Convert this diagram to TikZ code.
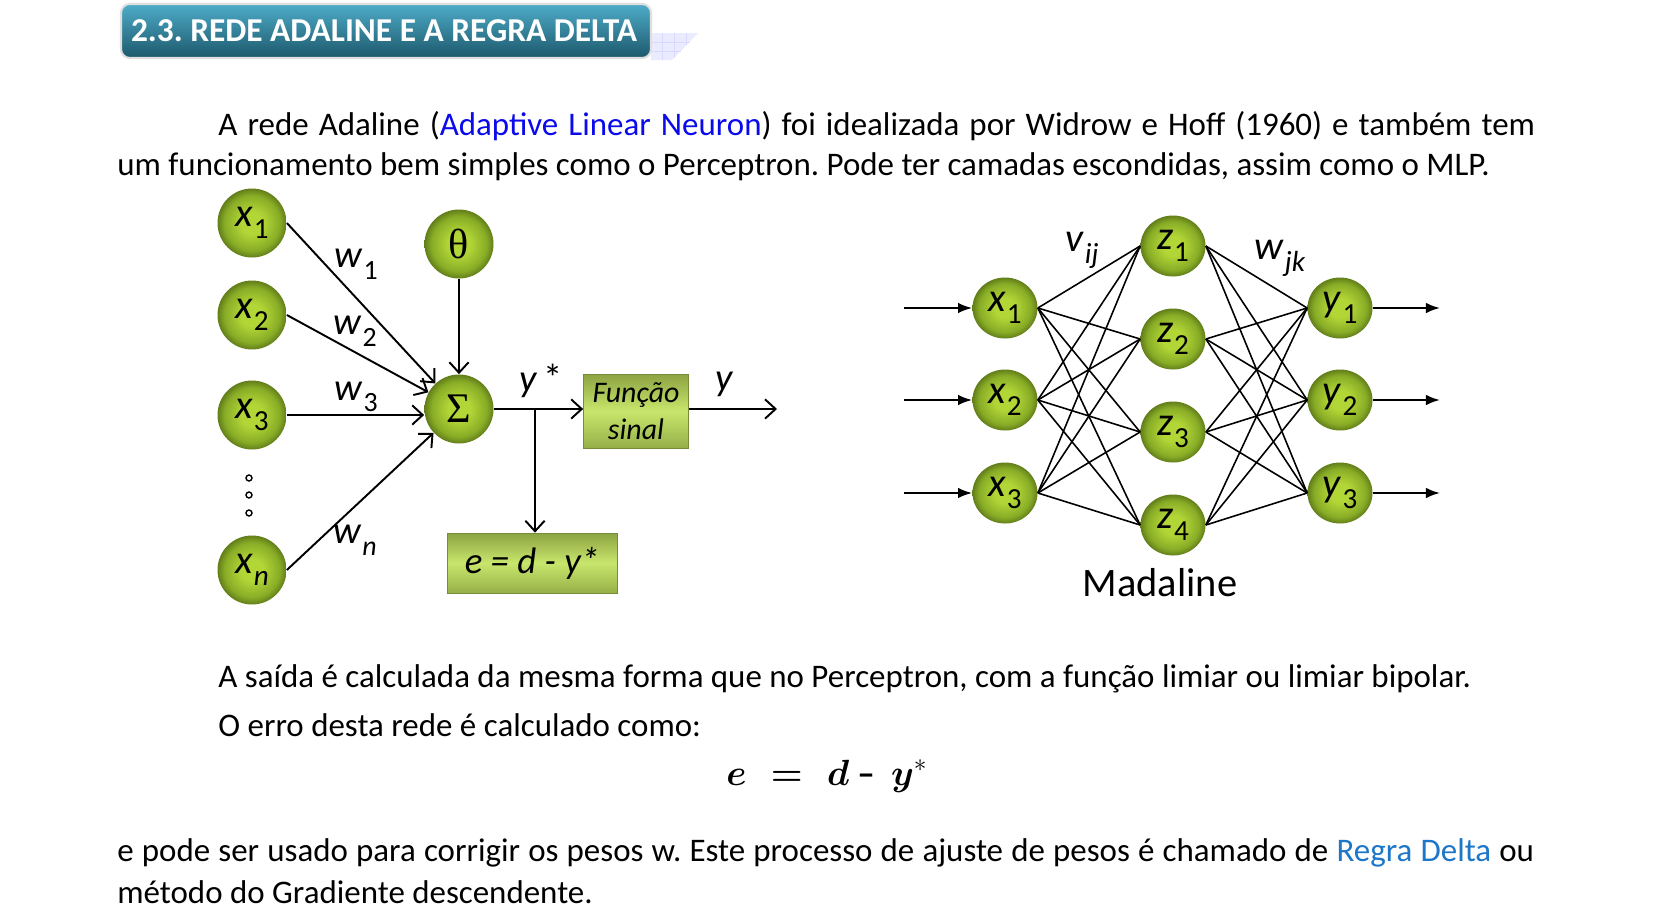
\documentclass[tikz,border=0pt]{standalone}
\usepackage{fontspec}
\setmainfont{Carlito}
\newfontfamily\grfont{Liberation Serif}
\usepackage{bm}
\usetikzlibrary{arrows.meta,shapes.geometric,calc}
\definecolor{gl}{RGB}{178,214,54}
\definecolor{gm}{RGB}{136,172,38}
\definecolor{gd}{RGB}{98,126,26}
\definecolor{bxtop}{RGB}{140,163,66}
\definecolor{bxmid}{RGB}{200,230,108}
\definecolor{bxbot}{RGB}{150,176,72}
\definecolor{hdtop}{RGB}{78,172,200}
\definecolor{hdbot}{RGB}{28,88,108}
\definecolor{linkblue}{RGB}{10,10,235}
\definecolor{deltablue}{RGB}{30,118,200}
\pgfdeclareradialshading{gball}{\pgfpoint{0bp}{0bp}}{color(0bp)=(gl); color(8bp)=(gl); color(20bp)=(gm); color(25bp)=(gd); color(50bp)=(gd)}
\newcommand\fs[1]{\fontsize{#1}{#1}\selectfont}
\newcommand\lab[2]{\textit{#1}\kern0.02em\raisebox{-0.3em}{\scalebox{0.72}{#2}}}
\newcommand\eqtext{$\bm{e}\mskip7mu\bm{=}\mskip7mu\bm{d}\mskip4mu\mbox{\bfseries –}\mskip8mu\bm{y}^{*}$}
\tikzset{
  ball/.style={circle, shading=gball, minimum size=69*0.02cm, inner sep=0pt, font=\fs{23}},
  rball/.style={ellipse, shading=gball, minimum width=65*0.02cm, minimum height=61*0.02cm, inner sep=0pt, font=\fs{23}},
  dotc/.style={circle, draw, fill=white, line width=0.8pt, minimum size=6*0.02cm, inner sep=0pt},
  gbox/.style={rectangle, top color=bxtop, bottom color=bxbot, middle color=bxmid, draw=bxtop!85!black, line width=0.4pt, inner sep=0pt},
  arr/.style={line width=1.1pt, -{Straight Barb[length=6pt,width=11pt]}},
  net/.style={line width=0.9pt},
  inarr/.style={line width=1.1pt, -{Latex[length=8pt,width=6pt]}},
  body/.style={anchor=base west, inner sep=0pt, font=\fs{18.75}},
  wlab/.style={inner sep=0pt, font=\fs{22}},
}
\begin{document}
\frenchspacing
\begin{tikzpicture}[x=0.02cm, y=-0.02cm]
\useasboundingbox (0,0) rectangle (1654,916);
\fill[white] (0,0) rectangle (1654,916);

% header
\fill[blue!8] (651,33) -- (698,33) -- (672,60) -- (651,60) -- cycle;
\draw[blue!15, line width=0.4pt] (662,33) -- (662,60) (674,33) -- (674,58) (686,33) -- (686,45) (651,42) -- (690,42) (651,51) -- (681,51);
\node[rectangle, rounded corners=5pt, top color=hdtop, bottom color=hdbot, draw=gray!25, line width=1.2pt,
      minimum width=530*0.02cm, minimum height=54*0.02cm, inner sep=0pt] (hd) at (386,31) {};
\node[inner sep=0pt, text=white, font=\fs{19}\bfseries] (hdt) at (384,31) {2.3. REDE ADALINE E A REGRA DELTA};

% body text
\node[body] (p1) at (218,135) {\makebox[26.34cm][s]{A rede Adaline (\textcolor{linkblue}{Adaptive Linear Neuron}) foi idealizada por Widrow e Hoff (1960) e também tem}};
\node[body] (p2) at (117,175) {um funcionamento bem simples como o Perceptron. Pode ter camadas escondidas, assim como o MLP.};
\node[body] (p3) at (218,687) {A saída é calculada da mesma forma que no Perceptron, com a função limiar ou limiar bipolar.};
\node[body] (p4) at (218,736) {O erro desta rede é calculado como:};
\node[anchor=base, inner sep=0pt, font=\fs{20}] (eq) at (827,785) {\eqtext};
\node[body] (p5) at (117,861) {\makebox[28.34cm][s]{e pode ser usado para corrigir os pesos w. Este processo de ajuste de pesos é chamado de \textcolor{deltablue}{Regra Delta} ou}};
\node[body] (p6) at (117,903) {método do Gradiente descendente.};

% ---------- Adaline ----------
\node[ball] (x1) at (252,223) {\lab{x}{1}};
\node[ball] (x2) at (252,315) {\lab{x}{2}};
\node[ball] (x3) at (252,415) {\lab{x}{3}};
\node[ball] (xn) at (252,570) {\lab{x}{\textit{n}}};
\node[dotc] (d1) at (249,478) {};
\node[dotc] (d2) at (249,495) {};
\node[dotc] (d3) at (249,513) {};
\node[ball, font=\fs{24}\grfont] (th) at (459,244) {θ};
\node[ball, font=\fs{24}\grfont] (S) at (459,409) {Σ};
\node[gbox, minimum width=105*0.02cm, minimum height=74*0.02cm, align=center, font=\fs{17}\itshape] (fs) at (636,411) {Função\\[4pt]sinal};
\node[gbox, minimum width=170*0.02cm, minimum height=60*0.02cm, font=\fs{21}\itshape] (eb) at (532,563) {e = d - y*};

\draw[arr] (x1.east) -- (S);
\draw[arr] (x2.east) -- (S);
\draw[arr] (x3.east) -- (S.west |- x3.east);
\draw[arr] (xn.east) -- (S);
\draw[arr] (th) -- (S);
\coordinate (sout) at (S.east);
\draw[arr] (sout) -- (sout -| fs.west);
\coordinate (br) at (535,409);
\draw[arr] (br) -- (br |- eb.north);
\coordinate (yout) at (777,409);
\draw[arr] (fs.east |- yout) -- (yout);

\node[wlab] (lw1) at (356,264) {\lab{w}{1}};
\node[wlab] (lw2) at (355,331) {\lab{w}{2}};
\node[wlab] (lw3) at (356,397) {\lab{w}{3}};
\node[wlab] (lwn) at (355,540) {\lab{w}{\textit{n}}};
\node[wlab] (lys) at (541,381) {\textit{y}\,*};
\node[wlab] (ly) at (725,384) {\textit{y}};

% ---------- Madaline ----------
\foreach \i/\yy in {1/308,2/400,3/493} {
  \node[rball] (a\i) at (1005,\yy) {\lab{x}{\i}};
  \node[rball] (b\i) at (1340,\yy) {\lab{y}{\i}};
}
\foreach \j/\yy in {1/246,2/339,3/432,4/525} {
  \node[rball] (z\j) at (1173,\yy) {\lab{z}{\j}};
}
\foreach \i in {1,2,3} {
  \foreach \j in {1,2,3,4} {
    \draw[net] (a\i.east) -- (z\j.west);
    \draw[net] (z\j.east) -- (b\i.west);
  }
}
\foreach \i/\yy in {1/308,2/400,3/493} {
  \coordinate (in\i) at (904,\yy);
  \coordinate (out\i) at (1440,\yy);
  \draw[inarr] (in\i) -- (a\i.west);
  \draw[inarr] (b\i.east) -- (out\i);
}
\node[wlab, font=\fs{23}] (lv) at (1082,250) {\lab{v}{\textit{ij}}};
\node[wlab, font=\fs{23}] (lwjk) at (1280,258) {\lab{w}{\textit{jk}}};
\node[inner sep=0pt, font=\fs{23}] (mad) at (1160,583) {Madaline};
\end{tikzpicture}
\end{document}
